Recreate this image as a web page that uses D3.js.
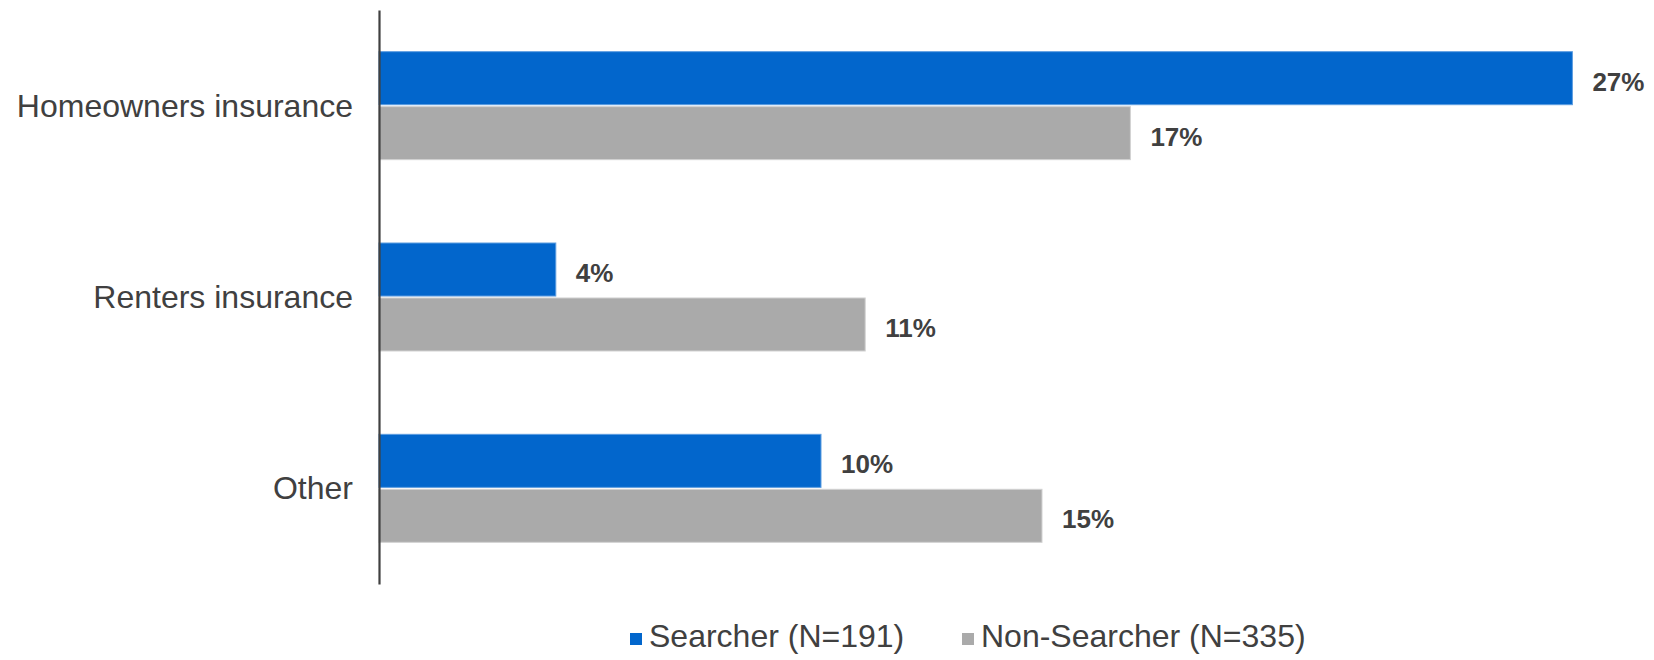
<!DOCTYPE html>
<html>
<head>
<meta charset="utf-8">
<script src="https://cdn.jsdelivr.net/npm/d3@7"></script>
<style>
  html, body { margin: 0; padding: 0; background: #ffffff; }
  svg { display: block; font-family: "Liberation Sans", Arial, sans-serif; }
</style>
</head>
<body>
<svg id="chart" width="1654" height="660"></svg>
<script>
// Insurance types, top to bottom
const categories = ["Homeowners insurance", "Renters insurance", "Other"];
// Series names as shown in the legend
const seriesNames = ["Searcher (N=191)", "Non-Searcher (N=335)"];
// Percent values per category, in category order
const searcherValues = [27, 4, 10];
const nonSearcherValues = [17, 11, 15];
const seriesColors = ["#0266cc", "#aaaaaa"];
const seriesStrokes = ["#5d9de0", "#d2d2d2"];

const rows = categories.map((c, i) => ({
  category: c,
  values: [
    { series: seriesNames[0], value: searcherValues[i], idx: 0 },
    { series: seriesNames[1], value: nonSearcherValues[i], idx: 1 }
  ]
}));

const svg = d3.select("#chart");
const textColor = "#404040";

const axisX = 379;
const x = d3.scaleLinear().domain([0, 30]).range([axisX, axisX + 1326]);
const y0 = d3.scaleBand().domain(categories).range([10, 584]).padding(0);
const groupH = 108;
const y1 = d3.scaleBand().domain(seriesNames).range([0, groupH]).paddingInner(0.035);

const groups = svg.selectAll("g.cat")
  .data(rows)
  .join("g")
  .attr("class", "cat")
  .attr("transform", d => `translate(0,${y0(d.category) + y0.bandwidth() / 2 - groupH / 2})`);

groups.selectAll("rect")
  .data(d => d.values)
  .join("rect")
  .attr("x", x(0))
  .attr("y", d => y1(d.series))
  .attr("width", d => x(d.value) - x(0))
  .attr("height", y1.bandwidth())
  .attr("fill", d => seriesColors[d.idx])
  .attr("stroke", d => seriesStrokes[d.idx])
  .attr("stroke-width", 1);

groups.selectAll("text.val")
  .data(d => d.values)
  .join("text")
  .attr("class", "val")
  .attr("x", d => x(d.value) + 20)
  .attr("y", d => y1(d.series) + y1.bandwidth() / 2 + 5.5)
  .attr("dominant-baseline", "middle")
  .attr("font-size", 26)
  .attr("font-weight", "bold")
  .attr("fill", textColor)
  .text(d => d.value + "%");

// Category axis on the left: labels plus a vertical line
const yAxis = d3.axisLeft(y0).tickSize(0).tickPadding(26);
const axisG = svg.append("g")
  .attr("transform", `translate(${axisX},0)`)
  .call(yAxis);
axisG.select(".domain")
  .attr("stroke", "#404040")
  .attr("stroke-width", 2.2);
axisG.selectAll(".tick text")
  .attr("font-size", 32)
  .attr("fill", textColor)
  .attr("font-family", "\"Liberation Sans\", Arial, sans-serif")
  .attr("dy", "0.34em");

// Legend
const legendX = [630, 962];
const legend = svg.append("g");
const items = legend.selectAll("g")
  .data(seriesNames)
  .join("g")
  .attr("transform", (d, i) => `translate(${legendX[i]},639)`);
items.append("rect")
  .attr("x", 0)
  .attr("y", -6)
  .attr("width", 12)
  .attr("height", 12)
  .attr("fill", (d, i) => seriesColors[i]);
items.append("text")
  .attr("x", 19)
  .attr("y", 0)
  .attr("dominant-baseline", "middle")
  .attr("font-size", 32)
  .attr("fill", textColor)
  .text(d => d);
</script>
</body>
</html>
